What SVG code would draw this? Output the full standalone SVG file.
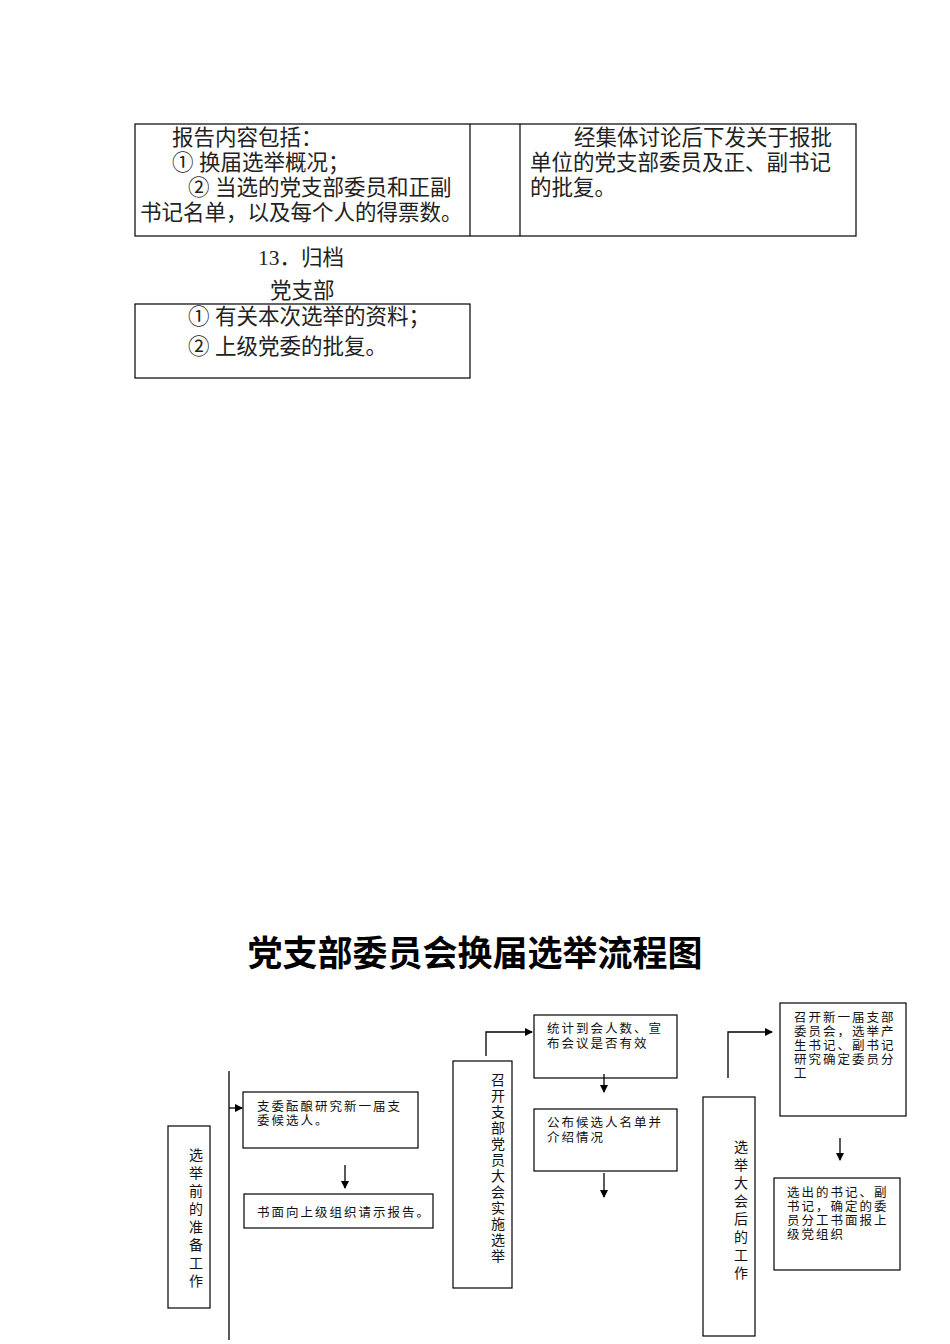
<svg xmlns="http://www.w3.org/2000/svg" width="950" height="1344" viewBox="0 0 950 1344">
<style>
.b{fill:none;stroke:#000;stroke-width:1.2}
.s{font-family:"Liberation Serif","Noto Sans CJK SC",serif;font-size:21.5px;fill:#222}
.f{font-family:"Liberation Serif","Noto Sans CJK SC",serif;font-size:12.5px;letter-spacing:2px;fill:#111}
.v{font-family:"Liberation Serif","Noto Sans CJK SC",serif;font-size:14px;fill:#111}
.l{fill:none;stroke:#000;stroke-width:1.3}
</style>
<defs><marker id="a" markerWidth="8" markerHeight="8" refX="7" refY="4" orient="auto" markerUnits="userSpaceOnUse"><path d="M0,0L8,4L0,8Z" fill="#000"/></marker></defs>
<rect width="950" height="1344" fill="#fff"/>
<g id="table">
<rect class="b" x="135" y="124" width="721" height="112"/>
<line class="b" x1="470" y1="124" x2="470" y2="236"/>
<line class="b" x1="520" y1="124" x2="520" y2="236"/>
<text class="s" x="172" y="145">报告内容包括：</text>
<text class="s" x="172" y="170">① 换届选举概况；</text>
<text class="s" x="188" y="195">② 当选的党支部委员和正副</text>
<text class="s" x="140" y="220">书记名单，以及每个人的得票数。</text>
<text class="s" x="574" y="145">经集体讨论后下发关于报批</text>
<text class="s" x="530" y="170">单位的党支部委员及正、副书记</text>
<text class="s" x="530" y="195">的批复。</text>
</g>
<text class="s" x="258" y="265">13．归档</text>
<text class="s" x="270" y="298">党支部</text>
<g id="archive">
<rect class="b" x="135" y="304" width="335" height="74"/>
<text class="s" x="188" y="324">① 有关本次选举的资料；</text>
<text class="s" x="188" y="354">② 上级党委的批复。</text>
</g>
<text x="475" y="966" text-anchor="middle" style="font-family:'Noto Sans CJK SC',sans-serif;font-size:35px;font-weight:bold">党支部委员会换届选举流程图</text>
<g id="n1"><rect class="b" x="168" y="1126" width="42" height="182"/>
<text class="v"><tspan x="196" y="1160" text-anchor="middle">选</tspan><tspan x="196" y="1178" text-anchor="middle">举</tspan><tspan x="196" y="1196" text-anchor="middle">前</tspan><tspan x="196" y="1214" text-anchor="middle">的</tspan><tspan x="196" y="1232" text-anchor="middle">准</tspan><tspan x="196" y="1250" text-anchor="middle">备</tspan><tspan x="196" y="1268" text-anchor="middle">工</tspan><tspan x="196" y="1286" text-anchor="middle">作</tspan></text></g>
<g id="n2"><rect class="b" x="243" y="1092" width="175" height="56"/>
<text class="f" x="257" y="1111">支委酝酿研究新一届支</text><text class="f" x="257" y="1125">委候选人。</text></g>
<g id="n3"><rect class="b" x="244" y="1194" width="189" height="34"/>
<text class="f" x="257" y="1217">书面向上级组织请示报告。</text></g>
<g id="n4"><rect class="b" x="453" y="1061" width="59" height="227"/>
<text class="v"><tspan x="498" y="1085" text-anchor="middle">召</tspan><tspan x="498" y="1101" text-anchor="middle">开</tspan><tspan x="498" y="1117" text-anchor="middle">支</tspan><tspan x="498" y="1133" text-anchor="middle">部</tspan><tspan x="498" y="1149" text-anchor="middle">党</tspan><tspan x="498" y="1165" text-anchor="middle">员</tspan><tspan x="498" y="1181" text-anchor="middle">大</tspan><tspan x="498" y="1197" text-anchor="middle">会</tspan><tspan x="498" y="1213" text-anchor="middle">实</tspan><tspan x="498" y="1229" text-anchor="middle">施</tspan><tspan x="498" y="1245" text-anchor="middle">选</tspan><tspan x="498" y="1261" text-anchor="middle">举</tspan></text></g>
<g id="n5"><rect class="b" x="534" y="1015" width="143" height="63"/>
<text class="f" x="547" y="1033">统计到会人数、宣</text><text class="f" x="547" y="1048">布会议是否有效</text></g>
<g id="n6"><rect class="b" x="534" y="1109" width="143" height="62"/>
<text class="f" x="547" y="1127">公布候选人名单并</text><text class="f" x="547" y="1142">介绍情况</text></g>
<g id="n7"><rect class="b" x="703" y="1097" width="52" height="239"/>
<text class="v"><tspan x="741" y="1152" text-anchor="middle">选</tspan><tspan x="741" y="1170" text-anchor="middle">举</tspan><tspan x="741" y="1188" text-anchor="middle">大</tspan><tspan x="741" y="1206" text-anchor="middle">会</tspan><tspan x="741" y="1224" text-anchor="middle">后</tspan><tspan x="741" y="1242" text-anchor="middle">的</tspan><tspan x="741" y="1260" text-anchor="middle">工</tspan><tspan x="741" y="1278" text-anchor="middle">作</tspan></text></g>
<g id="n8"><rect class="b" x="780" y="1003" width="126" height="113"/>
<text class="f" x="794" y="1022">召开新一届支部</text><text class="f" x="794" y="1036">委员会，选举产</text><text class="f" x="794" y="1050">生书记、副书记</text><text class="f" x="794" y="1064">研究确定委员分</text><text class="f" x="794" y="1078">工</text></g>
<g id="n9"><rect class="b" x="774" y="1178" width="126" height="92"/>
<text class="f" x="787" y="1197">选出的书记、副</text><text class="f" x="787" y="1211">书记，确定的委</text><text class="f" x="787" y="1225">员分工书面报上</text><text class="f" x="787" y="1239">级党组织</text></g>
<g id="connectors">
<line class="l" x1="229" y1="1071" x2="229" y2="1340"/>
<line class="l" x1="229" y1="1108" x2="242" y2="1108" marker-end="url(#a)"/>
<line class="l" x1="345" y1="1165" x2="345" y2="1188" marker-end="url(#a)"/>
<polyline class="l" points="486,1056 486,1032 532,1032" marker-end="url(#a)"/>
<line class="l" x1="604" y1="1074" x2="604" y2="1092" marker-end="url(#a)"/>
<line class="l" x1="604" y1="1173" x2="604" y2="1197" marker-end="url(#a)"/>
<polyline class="l" points="728,1078 728,1032 772,1032" marker-end="url(#a)"/>
<line class="l" x1="840" y1="1138" x2="840" y2="1160" marker-end="url(#a)"/>
</g>
</svg>
